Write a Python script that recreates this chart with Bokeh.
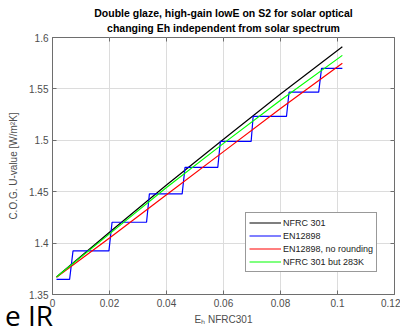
from bokeh.plotting import figure
from bokeh.layouts import column
from bokeh.models import (FixedTicker, CustomJSTickFormatter, Title, Legend,
                          LegendItem, LinearAxis, Range1d, Div)
from bokeh.embed import file_html
from bokeh.resources import INLINE

# ---- data ----
eh_lines = [0.0014, 0.02, 0.04, 0.06, 0.08, 0.1017]
u_nfrc301 = [1.3670, 1.4105, 1.4565, 1.5010, 1.5450, 1.5910]
u_en12898_noround = [1.3667, 1.4050, 1.4470, 1.4890, 1.5310, 1.5750]
u_nfrc301_283k = [1.3670, 1.4090, 1.4540, 1.4970, 1.5390, 1.5826]

eh_en12898 = [0.0014, 0.0060, 0.0072, 0.0198, 0.0209, 0.0330, 0.0340, 0.0455,
              0.0465, 0.0580, 0.0589, 0.0697, 0.0704, 0.0821, 0.0830, 0.0934,
              0.0944, 0.1017]
u_en12898 = [1.3647, 1.3647, 1.3925, 1.3925, 1.4203, 1.4203, 1.4479, 1.4479,
             1.4737, 1.4737, 1.4990, 1.4990, 1.5232, 1.5232, 1.5468, 1.5468,
             1.5699, 1.5699]

x_ticks = [0, 0.02, 0.04, 0.06, 0.08, 0.1, 0.12]
y_ticks = [1.35, 1.4, 1.45, 1.5, 1.55, 1.6]

title_1 = "Double glaze, high-gain lowE on S2 for solar optical"
title_2 = "changing Eh independent from solar spectrum"
x_label = "E\u2095 NFRC301"
y_label = "C.O.G. U-value [W/m\u00b2K]"
series_names = ["NFRC 301", "EN12898", "EN12898, no rounding", "NFRC 301 but 283K"]
slide_text = "e IR"

FONT = "Liberation Sans"
GRAY = "#4d4d4d"

p = figure(frame_width=342, frame_height=257, output_backend="svg",
           toolbar_location=None,
           x_range=Range1d(0, 0.12), y_range=Range1d(1.35, 1.6),
           min_border_left=52, min_border_right=6, min_border_top=37,
           min_border_bottom=36)
p.title = None

fmt = CustomJSTickFormatter(code="""
var s = tick.toFixed(2);
s = s.replace(/0+$/, '').replace(/\\.$/, '');
return s;
""")
blank = CustomJSTickFormatter(code="return '';")

for ax in (p.xaxis[0], p.yaxis[0]):
    ax.major_label_text_font = FONT
    ax.major_label_text_font_size = "10px"
    ax.major_label_text_color = GRAY
    ax.axis_label_text_font = FONT
    ax.axis_label_text_font_size = "10px"
    ax.axis_label_text_font_style = "normal"
    ax.axis_label_text_color = GRAY
    ax.axis_line_color = "#6e6e6e"
    ax.major_tick_line_color = "#6e6e6e"
    ax.major_tick_in = 4
    ax.major_tick_out = 0
    ax.minor_tick_line_color = None
    ax.formatter = fmt
    ax.major_label_standoff = 4

p.xaxis[0].ticker = FixedTicker(ticks=x_ticks)
p.yaxis[0].ticker = FixedTicker(ticks=y_ticks)
p.xaxis[0].axis_label = x_label
p.yaxis[0].axis_label = y_label
p.xaxis[0].axis_label_standoff = 4
p.yaxis[0].axis_label_standoff = 7

p.xgrid.ticker = FixedTicker(ticks=x_ticks)
p.ygrid.ticker = FixedTicker(ticks=y_ticks)
p.grid.grid_line_color = "#dcdcdc"
p.grid.grid_line_width = 1
p.outline_line_color = "#6e6e6e"

# box ticks on top and right
for side, tk in (("right", y_ticks), ("above", x_ticks)):
    a = LinearAxis(ticker=FixedTicker(ticks=tk), formatter=blank,
                   major_label_standoff=0, axis_line_color=None,
                   major_tick_line_color="#6e6e6e", major_tick_in=4,
                   major_tick_out=0, minor_tick_line_color=None)
    p.add_layout(a, side)

for txt, so in ((title_2, 8), (title_1, -6)):
    p.add_layout(Title(text=txt, align="center", text_font=FONT,
                       text_font_size="10.5px", text_font_style="bold",
                       text_color="black", standoff=so, offset=0), "above")

r_black = p.line(eh_lines, u_nfrc301, line_color="black", line_width=1.2)
r_blue = p.line(eh_en12898, u_en12898, line_color="#0000ff", line_width=1.2)
r_red = p.line(eh_lines, u_en12898_noround, line_color="#ff0000", line_width=1.2)
r_green = p.line(eh_lines, u_nfrc301_283k, line_color="#00ff00", line_width=1.2)

legend = Legend(items=[LegendItem(label=series_names[0], renderers=[r_black]),
                       LegendItem(label=series_names[1], renderers=[r_blue]),
                       LegendItem(label=series_names[2], renderers=[r_red]),
                       LegendItem(label=series_names[3], renderers=[r_green])],
                location=(193, 22), label_text_font=FONT,
                label_text_font_size="9px", label_text_color="#222222",
                glyph_width=32, glyph_height=13, label_height=13,
                label_standoff=2, spacing=0, padding=3, margin=0,
                border_line_color="#333333", border_line_width=1,
                background_fill_color="white", background_fill_alpha=1)
p.add_layout(legend)

# stray slide text at the lower-left corner of the picture
slide = Div(text=slide_text,
            styles={"position": "absolute", "left": "0px", "top": "296px",
                    "font-family": "Open Sans", "font-size": "28px",
                    "line-height": "1", "color": "black", "z-index": "5"})

layout = column(p, slide)
open("out.html", "w").write(file_html(layout, INLINE))
